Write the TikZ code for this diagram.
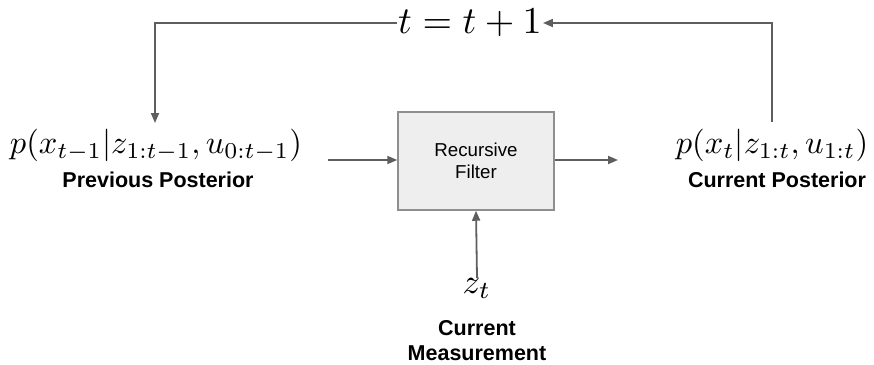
\documentclass[tikz,border=0pt]{standalone}
\usepackage{fontspec}
\usetikzlibrary{arrows.meta}
\newfontfamily\lsans{Liberation Sans}
\definecolor{linegray}{HTML}{5E5E5E}
\definecolor{boxborder}{HTML}{8E8E8E}
\definecolor{boxfill}{HTML}{EEEEEE}
\tikzset{
  conn/.style={draw=linegray, line width=1.8pt},
  arr/.style={conn, -{Triangle[length=10pt,width=8pt]}},
  filterbox/.style={draw=boxborder, fill=boxfill, line width=1.5pt, minimum width=156pt, minimum height=98pt, inner sep=0pt},
  lbl/.style={font=\lsans\bfseries\fontsize{21.5}{25}\selectfont, align=center, inner sep=0pt},
  mth/.style={inner sep=0pt}
}
\begin{document}
\begin{tikzpicture}[x=1pt,y=-1pt]
\useasboundingbox (0,0) rectangle (874,364);
\node[filterbox, align=center, font=\lsans\fontsize{18.7}{22}\selectfont] (filt) at (476,161) {Recursive\\Filter};
\node[mth] (leftf) at (156,145) {\scalebox{3.25}{$p(x_{t-1}|z_{1:t-1},u_{0:t-1})$}};
\node[mth] (rightf) at (772,145) {\scalebox{3.25}{$p(x_t|z_{1:t},u_{1:t})$}};
\node[lbl] (prevlbl) at (158,180) {Previous Posterior};
\node[lbl] (curlbl) at (777,180) {Current Posterior};
\node[mth, anchor=north] (zt) at (477,278) {\scalebox{3.5}{$z_t$}};
\node[lbl] (meas) at (477,341) {Current\\Measurement};
\node[mth, inner sep=1pt] (tnode) at (470,23) {\scalebox{3.8}{$t=t+1$}};
\coordinate (inStart) at (328,160);
\coordinate (outEnd) at (618,160);
\coordinate (fbR) at (772,122);
\coordinate (fbL) at (155,123);
\draw[arr] (inStart) -- (filt.west |- inStart);
\draw[arr] (filt.east |- outEnd) -- (outEnd);
\draw[arr] (zt.north) -- (filt.south);
\draw[arr] (fbR) |- (tnode.east);
\draw[arr] (tnode.west) -| (fbL);
\end{tikzpicture}
\end{document}
